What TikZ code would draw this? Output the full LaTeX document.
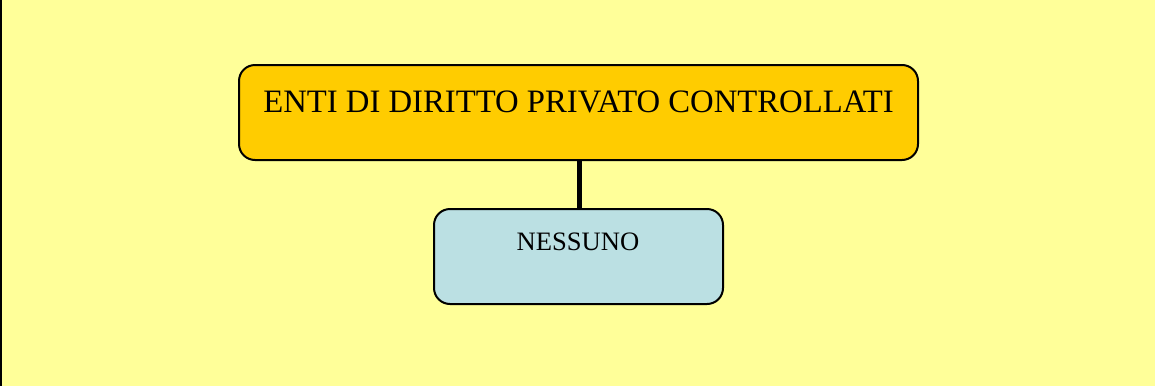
\documentclass[tikz,border=0pt]{standalone}
\usepackage{fontspec}
\setmainfont{Liberation Serif}
\definecolor{bgyellow}{HTML}{FFFF99}
\definecolor{boxorange}{HTML}{FFCC00}
\definecolor{boxblue}{HTML}{BBE0E3}
\begin{document}
\begin{tikzpicture}[x=1pt,y=-1pt,
  box/.style={draw=black,line width=2pt,rounded corners=16pt}]
\useasboundingbox (0,0) rectangle (1155,386);
\fill[bgyellow] (0,0) rectangle (1155,386);
\draw[line width=2pt] (1,0) -- (1,386);
% top box
\draw[box,fill=boxorange] (239,65) rectangle (918,160);
\node[anchor=base,inner sep=0pt,font=\fontsize{32.7}{38}\selectfont] (toptext) at (578.5,112) {ENTI DI DIRITTO PRIVATO CONTROLLATI};
\coordinate (topb) at (579.5,160);
% bottom box
\draw[box,fill=boxblue] (434,209) rectangle (723,304);
\node[anchor=base,inner sep=0pt,font=\fontsize{26.6}{31}\selectfont] (bottext) at (578,250) {NESSUNO};
\coordinate (bott) at (579.5,209);
\draw[line width=5pt] (topb) -- (bott);
\end{tikzpicture}
\end{document}
